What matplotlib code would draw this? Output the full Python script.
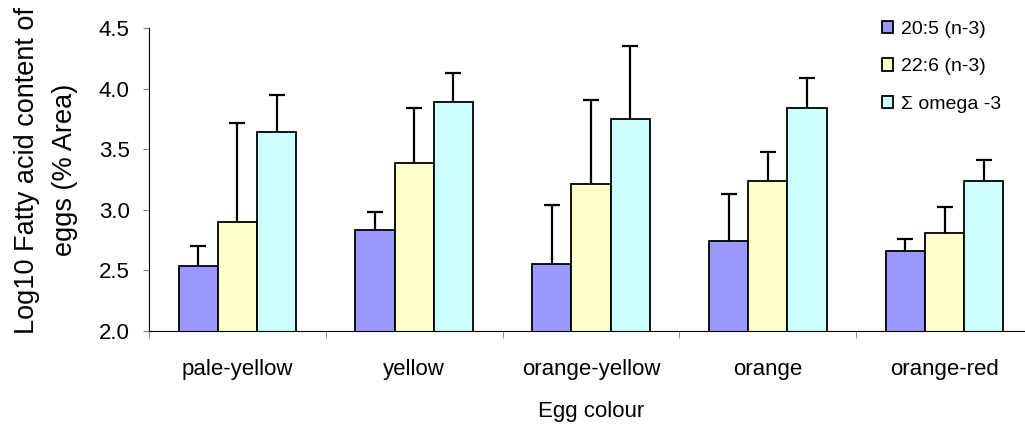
import numpy as np
import matplotlib.pyplot as plt
from matplotlib.patches import Patch

plt.rcParams['font.family'] = ['Liberation Sans', 'DejaVu Sans']

categories = ["pale-yellow", "yellow", "orange-yellow", "orange", "orange-red"]
series_names = ["20:5 (n-3)", "22:6 (n-3)", "\u03a3 omega -3"]
epa = [2.54, 2.83, 2.55, 2.74, 2.66]
dha = [2.90, 3.39, 3.21, 3.24, 2.81]
omega3 = [3.64, 3.89, 3.75, 3.84, 3.24]
# upper error bar extents
epa_err = [0.16, 0.15, 0.49, 0.39, 0.10]
dha_err = [0.82, 0.45, 0.70, 0.24, 0.21]
omega3_err = [0.31, 0.24, 0.60, 0.25, 0.17]
colors = ["#9999FF", "#FFFFCC", "#CCFFFF"]

fig = plt.figure(figsize=(10.25, 4.33), dpi=100)
ax = fig.add_axes([149 / 1025, 1 - 331 / 433, (1033 - 149) / 1025, (331 - 28) / 433])

x = np.arange(len(categories))
width = 0.222
means = [epa, dha, omega3]
errs = [epa_err, dha_err, omega3_err]
for i, (m, e) in enumerate(zip(means, errs)):
    pos = x + (i - 1) * width
    ax.bar(pos, m, width, bottom=0, color=colors[i], edgecolor="black",
           linewidth=1.3, zorder=2)
    tops = np.array(m) + np.array(e)
    ax.vlines(pos, m, tops, color="black", linewidth=1.6, zorder=3)
    ax.hlines(tops, pos - 0.045, pos + 0.045, color="black", linewidth=1.6, zorder=3)

ax.set_ylim(2.0, 4.5)
ax.set_xlim(-0.5, len(categories) - 0.5)
yticks = np.arange(2.0, 4.51, 0.5)
ax.set_yticks(yticks)
ax.set_yticklabels([f"{v:.1f}" for v in yticks], fontsize=16)
ax.set_xticks(x)
ax.set_xticklabels(categories, fontsize=16)
ax.set_xticks(np.arange(-0.5, len(categories), 1), minor=True)
ax.tick_params(axis="x", which="major", length=0, pad=20)
ax.tick_params(axis="x", which="minor", length=5, color="#808080", direction="out")
ax.tick_params(axis="y", length=4, color="#808080", direction="out", pad=10)

for s in ["top", "right"]:
    ax.spines[s].set_visible(False)

ax.set_xlabel("Egg colour", fontsize=16, labelpad=15)
fig.text(46 / 1025, 1 - 170 / 433, "Log10 Fatty acid content of\neggs (% Area)",
         fontsize=19.5, rotation=90, ha="center", va="center",
         multialignment="center", linespacing=1.6)

handles = [Patch(facecolor=c, edgecolor="black", linewidth=1.3) for c in colors]
fig.legend(handles, series_names, loc="upper left", bbox_to_anchor=(874 / 1025, 1 - 13 / 433),
           frameon=False, fontsize=14, handlelength=0.6, handleheight=0.6,
           handletextpad=0.4, labelspacing=1.05, borderaxespad=0)

fig.savefig("out.png", dpi=100)
